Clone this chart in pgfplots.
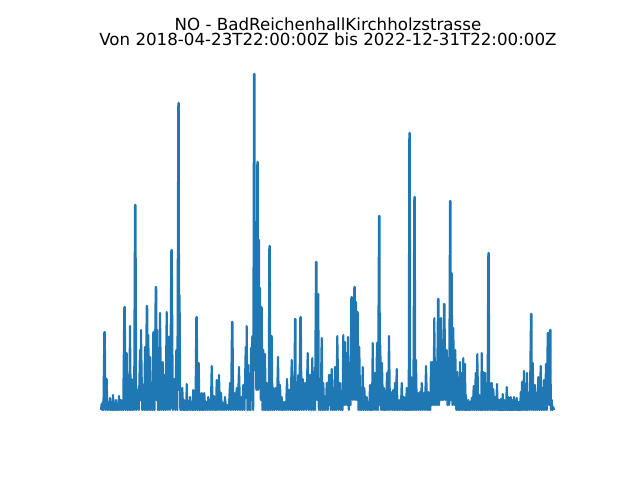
\documentclass[border=0pt]{standalone}
\usepackage{pgfplots}
\pgfplotsset{compat=1.18}
\usepackage{fontspec}
\setmainfont{DejaVu Sans}
\definecolor{mplblue}{HTML}{1F77B4}
\begin{document}
\begin{tikzpicture}
\begin{axis}[name=ax, scale only axis, width=357.12pt, height=266.11pt,
  xmin=80, xmax=576, ymin=-17.2, ymax=352.4, hide axis, clip=false]
\addplot[mplblue, line width=1.5pt, line join=round, mark=none] table {
101 0
101.6 6
102.2 0
102.8 8
103.4 0
104.3 78
104.8 78
105.5 0
106.7 31
107.4 0
108.2 7
109 0
110 12
110.8 0
111.5 6
112.2 0
113 15
113.8 0
114.5 7
115.2 0
116 10
116.8 0
117.5 6
118.2 0
119 14
120 0
121 10
121.8 0
122.5 5
123.2 0
124.3 103
124.8 103
125.5 0
126.7 57
127.5 0
128.3 30
129.2 0
130 84
130.8 0
131.7 31
132.5 0
133.3 12
134.1 0
135 205
135.5 205
136.3 0
137.7 20
138.8 0
140 60
140.5 10
141 80
142.2 0
143.3 25
144.2 0
145 63
145.8 0
146.7 104
147.2 104
147.5 0
148.3 75
149.2 0
150 53
150.8 0
151.7 20
152.5 0
153.3 78
154.5 0
155.7 123
156.2 123
156.5 10
157.3 80
158 0
158.7 25
159.4 0
160 97
161.3 0
162.7 48
163.5 0
164.3 35
165.5 0
166.7 98
167.8 0
169 73
170.2 0
171.3 160
171.8 160
172.8 0
174.3 31
175.3 0
176.3 60
177.3 0
178.3 307
178.8 307
179.1 20
179.6 115
180.3 0
181 10
181.6 0
182.3 22
183.2 0
184 10
184.8 0
185.6 8
186.2 0
186.7 26
187.5 0
188.3 9
189.1 0
190 13
190.8 0
191.7 8
192.5 0
193.3 20
194 0
194.8 8
195.5 0
196.3 93
196.8 93
197.5 0
198.7 47
199.5 0
200.2 9
201 0
201.7 17
202.4 0
203 7
203.6 0
204.3 17
205.3 0
206.3 8
207.3 0
208.3 13
209.2 0
210 8
210.8 0
211.7 44
212.8 0
214 14
214.7 0
215.3 8
216 0
216.7 30
217.8 0
219 35
220 0
221 17
222 0
223 7
224 0
225 13
226.3 0
227.7 5
228.8 0
230 27
231 0
232 88
232.5 88
233.2 0
234.3 17
235.5 0
236.7 22
237.8 0
239 43
240 0
241 13
242.2 0
243.3 25
244.5 0
245.7 63
246.2 12
246.7 84
247.5 0
248.3 45
249.2 0
250 22
250.5 0
251 62
251.7 10
252.3 74
253.2 0
254 336
254.5 336
254.9 40
255.5 147
256.3 20
257.3 248
257.8 248
258.2 20
259 170
259.5 40
260 122
260.8 10
261.7 103
262.5 0
263.3 60
264.2 0
265 56
265.8 0
266.7 27
267.4 0
268.1 10
268.7 0
269.3 164
269.8 164
270.5 0
271.7 74
272.5 0
273.3 22
274.5 0
275.7 22
276.8 0
278 53
279 0
280 25
281 0
281.7 13
282.5 0
283.3 8
284.2 0
285 8
286 0
287 31
288.2 0
289.3 20
290.5 0
291.7 50
292.5 0
293.3 10
294.2 0
295 91
295.5 91
295.8 0
296.7 11
297.5 0
298.3 35
299.3 0
300.3 93
300.8 93
301.5 0
302.7 31
303.8 0
305 27
306.3 0
307.7 57
308.8 0
310 35
311.2 0
312.3 52
313.2 0
314 38
315 0
316 148
316.5 148
317.2 10
318.3 116
318.8 0
319.3 17
320.5 0
321.7 72
322.5 0
323.3 27
324.2 0
325 10
325.8 0
326.7 27
327.8 0
329 35
329.5 5
330 35
330.8 0
331.7 41
332.7 0
333.7 22
334.3 0
335 43
336.2 0
337.3 74
338.6 0
340 27
340.8 0
341.7 15
342.5 0
343.3 75
344.2 5
345 68
345.8 5
346.7 57
347.3 5
348 73
348.8 0
349.7 47
350.5 5
351.3 113
351.8 113
352.8 10
354.3 123
354.8 123
355.2 10
356 108
356.8 10
357.7 98
358.5 0
359.3 63
360.2 0
361 18
361.8 0
362.7 43
363.5 0
364.3 22
365.5 0
366.7 13
367.5 0
368.3 8
369.2 0
370 25
370.7 0
371.4 10
372 0
372.7 67
373.8 0
375 37
376 0
377 67
378 0
379 194
379.5 194
379.9 5
380.3 65
381.2 0
382 47
383 0
384 22
384.5 0
385 7
386 0
387 37
388 0
389 74
390 0
391 18
392.2 0
393.3 20
394.2 0
395 27
395.8 0
396.7 41
397.5 0
398.3 10
399.2 0
400 10
400.8 0
401.7 27
402.8 0
404 13
404.7 0
405.3 7
406 0
406.7 22
407.4 0
408.1 9
408.7 0
409.3 277
409.8 277
410.2 0
411 33
411.7 0
412.3 20
413.3 0
414.3 213
414.8 213
415.2 0
416 50
416.8 0
417.7 17
418.8 0
420 18
420.8 0
421.7 27
422.8 0
424 17
425 0
426 44
427.2 0
428.3 18
429 0
429.7 9
430.3 0
431 48
431.8 5
432.7 48
433.5 5
434.3 92
435.2 5
436 48
437 5
438 111
438.5 111
439 5
440 60
440.5 10
441 92
441.8 10
442.5 60
443.2 10
444 106
444.5 106
445.3 10
446.7 60
447.5 5
448.3 52
449.2 5
450 209
450.5 209
450.9 10
451.7 137
452.5 5
453.3 82
454.3 5
455.3 60
456.3 0
457.3 38
458 0
458.7 18
459.3 0
460 48
460.8 0
461.7 37
462.5 0
463.3 52
464.2 0
465 46
465.5 0
466 15
466.6 0
467.2 7
467.8 0
468.3 10
469.2 0
470 8
470.8 0
471.7 12
472.7 0
473.7 24
474.7 0
475.7 37
476.5 0
477.3 56
478.3 0
479.3 15
480 0
480.7 8
481.2 0
481.7 57
482.5 0
483.3 38
484.2 0
485 37
485.8 0
486.7 17
487.5 0
488.3 157
488.8 157
489.2 0
490 27
490.8 0
491.7 27
492.5 0
493.3 21
494.2 0
495 13
496 0
497 26
497.8 0
498.7 10
499.2 0
499.7 7
500.2 0
500.7 11
501.2 0
501.7 8
502.2 0
502.7 16
503.5 0
504.3 10
505 0
505.5 8
506 0
506.7 23
507.5 0
508.3 13
509 0
509.5 8
510 0
510.7 13
511.2 0
511.7 8
512.2 0
512.7 10
513.3 0
514 13
514.6 0
515.3 9
516 0
516.7 12
517.2 0
517.7 8
518.2 0
518.7 8
519.2 0
519.7 7
520.2 0
520.7 18
521.3 0
522 28
523 0
524 39
524.7 0
525.3 10
526.2 0
527 37
527.8 0
528.7 17
529.8 0
531 96
531.5 96
531.8 0
532.7 47
533.8 0
535 25
535.8 0
536.7 17
537.5 0
538.3 33
539.5 0
540.7 44
541.5 0
542.3 22
543.2 0
544 30
545 0
546 46
546.8 0
547.7 77
548.2 77
548.8 5
550 80
550.5 80
550.8 0
551.7 10
552.5 0
553.3 3
554 0
};
\end{axis}
\node[anchor=base, font=\fontsize{12}{14}\selectfont, inner sep=0pt] at ([yshift=8.35pt]ax.north) {Von 2018-04-23T22:00:00Z bis 2022-12-31T22:00:00Z};
\node[anchor=base, font=\fontsize{12}{14}\selectfont, inner sep=0pt] at ([yshift=19.85pt]ax.north) {NO - BadReichenhallKirchholzstrasse};
\path[use as bounding box] ([xshift=-57.6pt,yshift=-38.016pt]ax.south west) rectangle ([xshift=46.08pt,yshift=41.472pt]ax.north east);
\end{tikzpicture}
\end{document}
